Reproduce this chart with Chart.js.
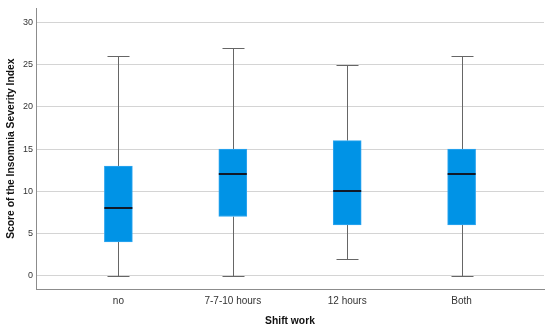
<!DOCTYPE html>
<html>
<head>
<meta charset="utf-8">
<script src="https://cdn.jsdelivr.net/npm/chart.js@4/dist/chart.umd.min.js"></script>
<style>
html,body{margin:0;padding:0;background:#fff;}
#wrap{width:550px;height:328px;position:relative;}
</style>
</head>
<body>
<div id="wrap"><canvas id="c" width="550" height="328"></canvas></div>
<script>
const categories = ["no", "7-7-10 hours", "12 hours", "Both"];
const mins    = [0, 0, 2, 0];
const q1s     = [4, 7, 6, 6];
const medians = [8, 12, 10, 12];
const q3s     = [13, 15, 16, 15];
const maxs    = [26, 27, 25, 26];
const yTicks  = [0, 5, 10, 15, 20, 25, 30];

const FONT = "'Liberation Sans', Arial, sans-serif";

const boxPlugin = {
  id: 'boxWhiskers',
  beforeDatasetsDraw(chart) {
    const {ctx, scales: {x, y}} = chart;
    ctx.save();
    ctx.strokeStyle = '#666666';
    ctx.lineWidth = 1;
    const capHalf = 11;
    categories.forEach((c, i) => {
      const px = Math.round(x.getPixelForValue(i)) + 0.5;
      const yMin = Math.round(y.getPixelForValue(mins[i])) + 0.5;
      const yMax = Math.round(y.getPixelForValue(maxs[i])) + 0.5;
      const yQ1 = y.getPixelForValue(q1s[i]);
      const yQ3 = y.getPixelForValue(q3s[i]);
      ctx.beginPath();
      ctx.moveTo(px, yMin); ctx.lineTo(px, yQ1);
      ctx.moveTo(px, yQ3); ctx.lineTo(px, yMax);
      ctx.moveTo(px - capHalf, yMin); ctx.lineTo(px + capHalf, yMin);
      ctx.moveTo(px - capHalf, yMax); ctx.lineTo(px + capHalf, yMax);
      ctx.stroke();
    });
    ctx.restore();
  },
  afterDatasetsDraw(chart) {
    const {ctx, scales: {x, y}} = chart;
    ctx.save();
    ctx.strokeStyle = '#111827';
    ctx.lineWidth = 2;
    const half = 14;
    categories.forEach((c, i) => {
      const px = x.getPixelForValue(i);
      const ym = Math.round(y.getPixelForValue(medians[i]));
      ctx.beginPath();
      ctx.moveTo(px - half, ym); ctx.lineTo(px + half, ym);
      ctx.stroke();
    });
    ctx.restore();
  }
};

new Chart(document.getElementById('c'), {
  type: 'bar',
  data: {
    datasets: [{
      data: categories.map((c, i) => ({x: i, y: [q1s[i], q3s[i]]})),
      backgroundColor: '#0093E6',
      borderColor: '#2FA6F0',
      borderWidth: 1,
      borderSkipped: false,
      barThickness: 28
    }]
  },
  plugins: [boxPlugin],
  options: {
    responsive: false,
    animation: false,
    layout: {padding: {top: 7, right: 6, left: 0, bottom: 0}},
    plugins: {legend: {display: false}, tooltip: {enabled: false}},
    scales: {
      x: {
        type: 'linear',
        offset: false,
        min: -0.72,
        max: 3.72,
        afterBuildTicks: s => { s.ticks = categories.map((c, i) => ({value: i})); },
        afterFit: s => { s.height = 39; },
        grid: {display: true, offset: false, color: 'rgba(0,0,0,0)', drawTicks: false, tickLength: 0},
        border: {display: true, color: '#8c8c8c', width: 1},
        ticks: {
          callback: v => categories[v] ?? '',
          color: '#333', padding: 6, autoSkip: false, maxRotation: 0,
          font: {family: FONT, size: 10}
        },
        title: {
          display: true, text: 'Shift work', color: '#111',
          font: {family: FONT, size: 10.3, weight: 'bold'},
          padding: {top: 0, bottom: 1}
        }
      },
      y: {
        min: -1.6,
        max: 31.7,
        afterBuildTicks: s => { s.ticks = yTicks.map(v => ({value: v})); },
        afterFit: s => { s.width = 36; },
        grid: {color: '#d4d4d4', lineWidth: 1, drawTicks: false, tickLength: 0},
        border: {display: true, color: '#8c8c8c', width: 1},
        ticks: {
          color: '#333', padding: 3,
          font: {family: FONT, size: 9}
        },
        title: {
          display: true, text: 'Score of the Insomnia Severity Index', color: '#111',
          font: {family: FONT, size: 10.3, weight: 'bold'},
          padding: {top: 4.5, bottom: 0}
        }
      }
    }
  }
});
</script>
</body>
</html>
